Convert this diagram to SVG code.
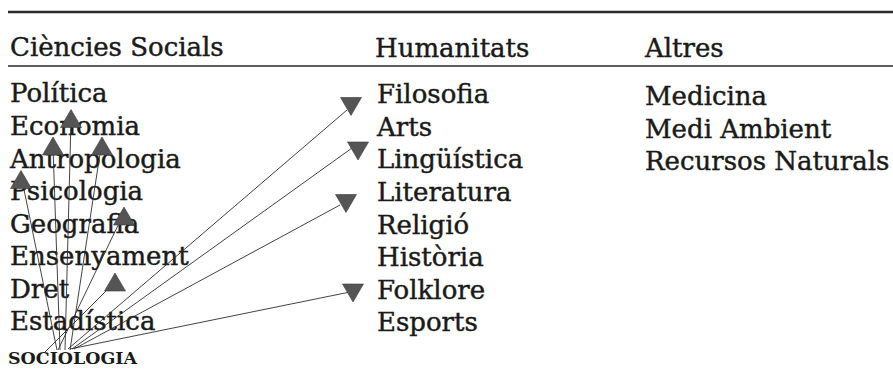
<svg xmlns="http://www.w3.org/2000/svg" width="893" height="372" viewBox="0 0 893 372">
<style>
  .t { font-family: "DejaVu Serif", "Liberation Serif", serif; font-size: 26px; fill: #1a1a1a; stroke: #1a1a1a; stroke-width: 0.45; }
  .b { font-family: "DejaVu Serif", "Liberation Serif", serif; font-size: 17px; font-weight: bold; fill: #1a1a1a; }
  .rule { stroke: #2a2a2a; }
  .c line { stroke: #2e2e2e; stroke-width: 0.9; }
  .tri { fill: #555555; stroke: #3a3a3a; stroke-width: 0.6; }
</style>
<defs>
  <path id="up" d="M0,-9 L10.5,9 L-10.5,9 Z"/>
  <path id="down" d="M-10.5,-9 L10.5,-9 L0,9 Z"/>
</defs>
<rect width="893" height="372" fill="#ffffff"/>
<line class="rule" x1="8" y1="12" x2="893" y2="12" stroke-width="2.6"/>
<line class="rule" x1="8" y1="66" x2="893" y2="66" stroke-width="1.7"/>
<g id="headers">
  <text class="t" x="10" y="56">Ciències Socials</text>
  <text class="t" x="375" y="57">Humanitats</text>
  <text class="t" x="645" y="57">Altres</text>
</g>
<g id="col-ciencies-socials">
  <g id="politica"><text class="t" x="10" y="102">Política</text></g>
  <g id="economia"><text class="t" x="10" y="135">Economia</text></g>
  <g id="antropologia"><text class="t" x="10" y="167.5">Antropologia</text></g>
  <g id="psicologia"><text class="t" x="10" y="200">Psicologia</text></g>
  <g id="geografia"><text class="t" x="10" y="232.5">Geografia</text></g>
  <g id="ensenyament"><text class="t" x="10" y="265">Ensenyament</text></g>
  <g id="dret"><text class="t" x="10" y="297.5">Dret</text></g>
  <g id="estadistica"><text class="t" x="10" y="330">Estadística</text></g>
</g>
<g id="col-humanitats">
  <g id="filosofia"><text class="t" x="377" y="103">Filosofia</text></g>
  <g id="arts"><text class="t" x="377" y="135.5">Arts</text></g>
  <g id="linguistica"><text class="t" x="377" y="168">Lingüística</text></g>
  <g id="literatura"><text class="t" x="377" y="200.5">Literatura</text></g>
  <g id="religio"><text class="t" x="377" y="233.5">Religió</text></g>
  <g id="historia"><text class="t" x="377" y="266">Història</text></g>
  <g id="folklore"><text class="t" x="377" y="298.5">Folklore</text></g>
  <g id="esports"><text class="t" x="377" y="331">Esports</text></g>
</g>
<g id="col-altres">
  <g id="medicina"><text class="t" x="645" y="105">Medicina</text></g>
  <g id="medi-ambient"><text class="t" x="645" y="137.5">Medi Ambient</text></g>
  <g id="recursos-naturals"><text class="t" x="645" y="170">Recursos Naturals</text></g>
</g>
<g id="sociologia"><text class="b" x="8" y="364" textLength="129" lengthAdjust="spacingAndGlyphs">SOCIOLOGIA</text></g>
<g id="connectors" class="c">
  <line x1="65" y1="350" x2="71" y2="120"/>
  <line x1="60" y1="350" x2="53" y2="147"/>
  <line x1="70" y1="350" x2="101" y2="147"/>
  <line x1="57" y1="350" x2="22" y2="180"/>
  <line x1="58" y1="350" x2="122" y2="217"/>
  <line x1="45" y1="352" x2="110" y2="287"/>
  <line x1="68" y1="349" x2="347" y2="110"/>
  <line x1="72" y1="349" x2="352" y2="148"/>
  <line x1="74" y1="349" x2="340" y2="205"/>
  <line x1="70" y1="349" x2="350" y2="292"/>
</g>
<g id="arrowheads">
  <use href="#up" class="tri" x="71" y="118.5"/>
  <use href="#up" class="tri" x="53" y="146"/>
  <use href="#up" class="tri" x="102" y="146"/>
  <use href="#up" class="tri" x="21" y="179.5"/>
  <use href="#up" class="tri" x="124" y="216"/>
  <use href="#up" class="tri" x="115" y="282"/>
  <use href="#down" class="tri" x="351" y="106.5"/>
  <use href="#down" class="tri" x="358" y="151"/>
  <use href="#down" class="tri" x="346" y="203.5"/>
  <use href="#down" class="tri" x="353" y="293"/>
</g>
</svg>
